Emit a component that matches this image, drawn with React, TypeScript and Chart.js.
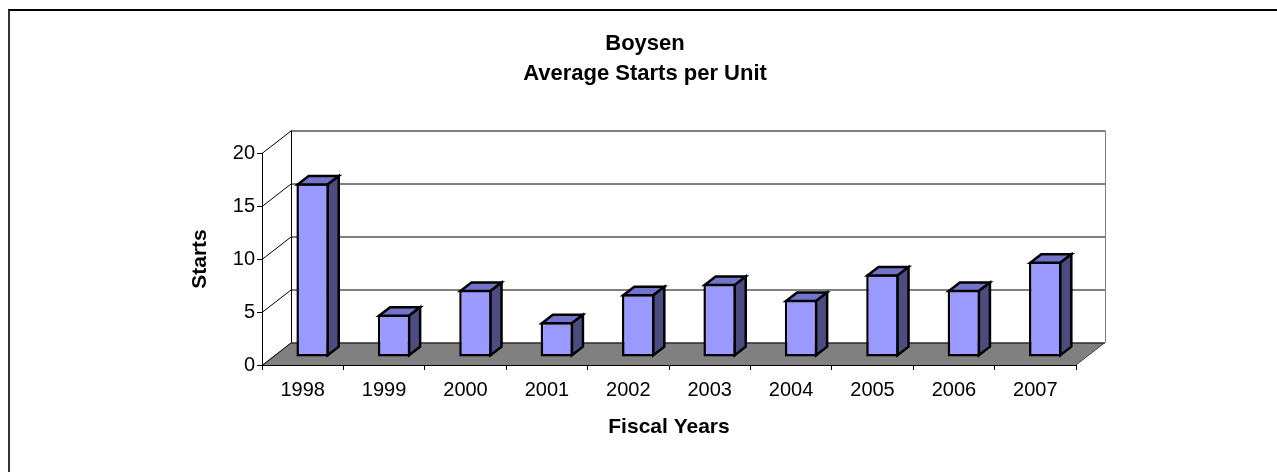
import React, { useEffect, useRef } from 'react';
import { Chart, registerables } from 'chart.js';

Chart.register(...registerables);

const categories = ['1998', '1999', '2000', '2001', '2002', '2003', '2004', '2005', '2006', '2007'];
const starts = [16.4, 4.0, 6.35, 3.3, 5.95, 6.9, 5.4, 7.8, 6.35, 9.0];
const yTickValues = [0, 5, 10, 15, 20];
const titleLines = ['Boysen', 'Average Starts per Unit'];
const yTitle = 'Starts';
const xTitle = 'Fiscal Years';

const FONT = "'Liberation Sans', Arial, Helvetica, sans-serif";
const WALL_DX = 29;
const WALL_DY = -22.5;
const BAR_DX = 10;
const BAR_DY = -8;
const BAR_DEPTH_DX = 11;
const BAR_DEPTH_DY = -8.5;

const FRONT = '#9999FF';
const TOP = '#7373CC';
const SIDE = '#4C4C80';
const FLOOR = '#808080';

function poly(ctx: CanvasRenderingContext2D, pts: number[][], fill: string, stroke: string, lw: number) {
  ctx.beginPath();
  ctx.moveTo(pts[0][0], pts[0][1]);
  for (let i = 1; i < pts.length; i++) ctx.lineTo(pts[i][0], pts[i][1]);
  ctx.closePath();
  ctx.fillStyle = fill;
  ctx.fill();
  ctx.lineWidth = lw;
  ctx.strokeStyle = stroke;
  ctx.lineJoin = 'miter';
  ctx.stroke();
}

const threeD = {
  id: 'threeD',
  beforeDraw(chart: any) {
    const { ctx, chartArea: ca, scales } = chart;
    const y = scales.y;
    const L = ca.left;
    const R = ca.right;
    const topY = y.getPixelForValue(y.max);
    const botY = y.getPixelForValue(y.min);
    ctx.save();
    ctx.beginPath();
    ctx.moveTo(L, botY);
    ctx.lineTo(R, botY);
    ctx.lineTo(R + WALL_DX, botY + WALL_DY);
    ctx.lineTo(L + WALL_DX, botY + WALL_DY);
    ctx.closePath();
    ctx.fillStyle = FLOOR;
    ctx.fill();
    ctx.lineWidth = 1;
    ctx.strokeStyle = '#000';
    yTickValues.forEach((v) => {
      const py = Math.round(y.getPixelForValue(v)) + 0.5;
      ctx.beginPath();
      ctx.moveTo(L, py);
      ctx.lineTo(L + WALL_DX, py + WALL_DY);
      ctx.lineTo(R + WALL_DX, py + WALL_DY);
      ctx.stroke();
    });
    ctx.beginPath();
    ctx.moveTo(L + WALL_DX + 0.5, topY + WALL_DY);
    ctx.lineTo(L + WALL_DX + 0.5, botY + WALL_DY);
    ctx.stroke();
    ctx.strokeStyle = '#808080';
    ctx.beginPath();
    ctx.moveTo(R + WALL_DX + 0.5, topY + WALL_DY);
    ctx.lineTo(R + WALL_DX + 0.5, botY + WALL_DY);
    ctx.stroke();
    ctx.strokeStyle = '#404040';
    ctx.beginPath();
    ctx.moveTo(R + WALL_DX, botY + WALL_DY);
    ctx.lineTo(R, botY);
    ctx.stroke();
    ctx.restore();
  },
  beforeDatasetsDraw(chart: any) {
    chart.ctx.save();
    chart.ctx.translate(BAR_DX, BAR_DY);
  },
  afterDatasetsDraw(chart: any) {
    const ctx = chart.ctx;
    ctx.restore();
    const meta = chart.getDatasetMeta(0);
    ctx.save();
    meta.data.forEach((bar: any) => {
      const { x, y, base, width } = bar.getProps(['x', 'y', 'base', 'width'], true);
      const l = x - width / 2 + BAR_DX + 1.25;
      const r = x + width / 2 + BAR_DX - 1.25;
      const t = y + BAR_DY + 1.25;
      const b = base + BAR_DY - 1.25;
      poly(ctx, [[l, t], [r, t], [r + BAR_DEPTH_DX, t + BAR_DEPTH_DY], [l + BAR_DEPTH_DX, t + BAR_DEPTH_DY]], TOP, '#000', 2.5);
      poly(ctx, [[r, t], [r + BAR_DEPTH_DX, t + BAR_DEPTH_DY], [r + BAR_DEPTH_DX, b + BAR_DEPTH_DY], [r, b]], SIDE, '#000', 2.5);
    });
    ctx.restore();
  },
};

export default function App() {
  const ref = useRef<HTMLCanvasElement | null>(null);
  useEffect(() => {
    if (!ref.current) return;
    Chart.defaults.font.family = FONT;
    Chart.defaults.color = '#000';
    const chart = new Chart(ref.current, {
      type: 'bar',
      data: {
        labels: categories,
        datasets: [
          {
            data: starts,
            backgroundColor: FRONT,
            borderColor: '#000',
            borderWidth: 2.5,
            borderSkipped: false,
            barPercentage: 0.4,
            categoryPercentage: 1,
          },
        ],
      },
      options: {
        responsive: false,
        animation: false,
        devicePixelRatio: 1,
        layout: { padding: { left: 13, right: 0, top: 0, bottom: 0 } },
        plugins: {
          legend: { display: false },
          tooltip: { enabled: false },
          title: {
            display: true,
            text: titleLines,
            color: '#000',
            font: { size: 22, weight: 'bold', family: FONT, lineHeight: 1.364 },
            padding: { top: 29, bottom: 64 },
          },
        },
        scales: {
          x: {
            type: 'category',
            grid: { display: true, drawOnChartArea: false, drawTicks: true, tickLength: 5, color: '#000', offset: true },
            border: { display: true, color: '#000', width: 1 },
            ticks: { font: { size: 20, family: FONT }, color: '#000', padding: 8, maxRotation: 0 },
            title: { display: true, text: xTitle, font: { size: 21, weight: 'bold', family: FONT }, color: '#000', padding: { top: 0, bottom: 32 } },
            afterFit: (s: any) => { s.height = 107; },
          },
          y: {
            type: 'linear',
            min: 0,
            max: 20,
            ticks: { stepSize: 5, font: { size: 20, family: FONT }, color: '#000', padding: 2 },
            grid: { display: true, drawOnChartArea: false, drawTicks: true, tickLength: 5, color: '#000' },
            border: { display: true, color: '#000', width: 1 },
            title: { display: true, text: yTitle, font: { size: 21, weight: 'bold', family: FONT }, color: '#000', padding: { top: 175, bottom: 0 } },
            afterFit: (s: any) => { s.width = 249; },
          },
          yRight: {
            type: 'linear',
            position: 'right',
            display: true,
            grid: { display: false },
            border: { display: false },
            ticks: { display: false },
            afterFit: (s: any) => { s.width = 201; },
          },
        },
      },
      plugins: [threeD],
    } as any);
    return () => chart.destroy();
  }, []);

  return (
    <div style={{ position: 'fixed', left: 0, top: 0, width: 1277, height: 472, overflow: 'hidden', background: '#fff' }}>
      <canvas ref={ref} width={1277} height={472} style={{ position: 'absolute', left: 0, top: 0, width: 1277, height: 472 }} />
      <div
        style={{
          position: 'absolute',
          left: 8,
          top: 9,
          width: 1400,
          height: 600,
          borderTop: '2px solid #000',
          borderLeft: '2px solid #333',
          pointerEvents: 'none',
        }}
      />
    </div>
  );
}
